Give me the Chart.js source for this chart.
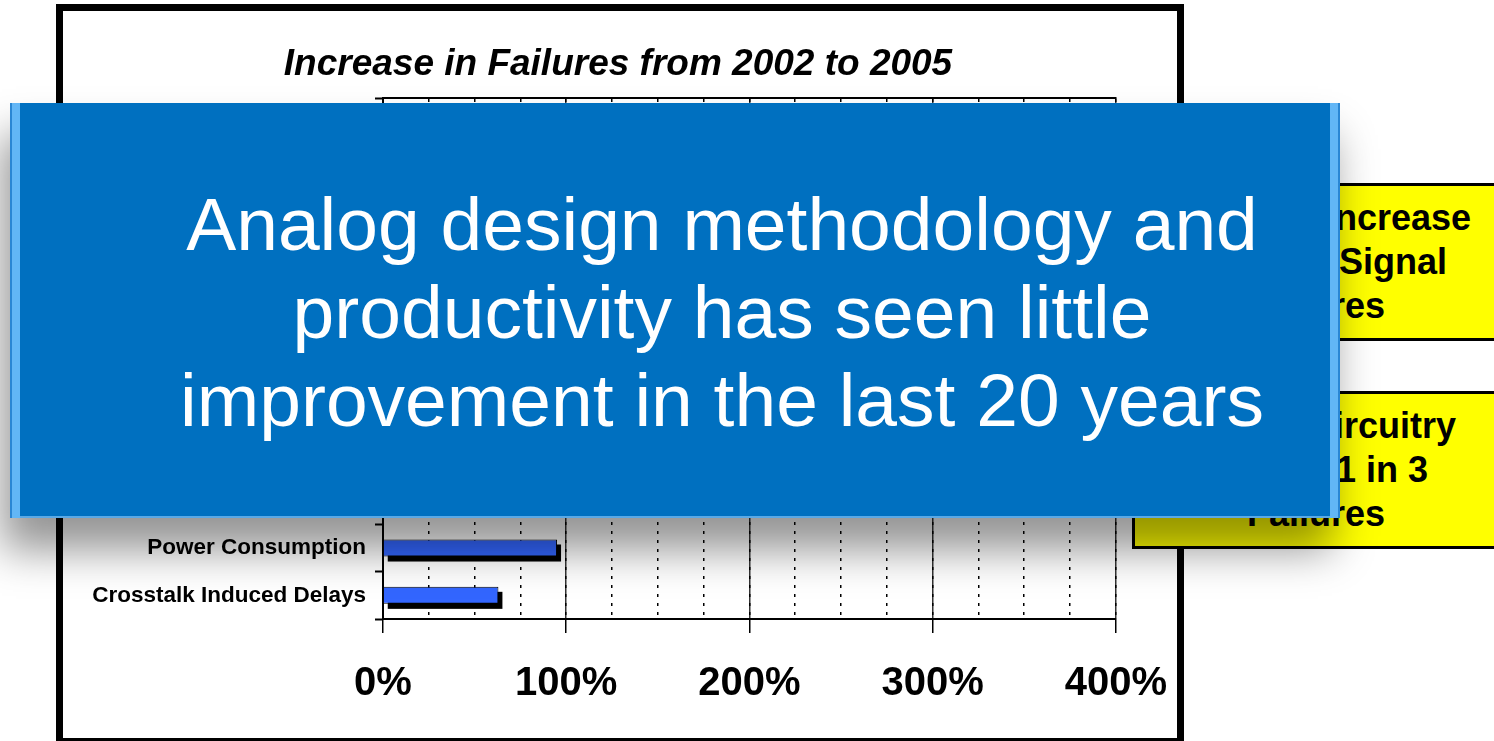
<!DOCTYPE html>
<html>
<head>
<meta charset="utf-8">
<script src="https://cdn.jsdelivr.net/npm/chart.js@4.4.1/dist/chart.umd.min.js"></script>
<style>
  html, body { margin: 0; padding: 0; background: #fff; overflow: hidden; }
  body { width: 1494px; height: 741px; position: relative; font-family: 'Liberation Sans', Arial, sans-serif; }
  #chartBox {
    position: absolute; left: 56px; top: 4px; width: 1128px; height: 741px;
    box-sizing: border-box; border: 7px solid #000; background: #fff;
  }
  #chartWrap { position: absolute; left: 0; top: 0; width: 1131px; height: 727px; }
  .note {
    position: absolute; left: 1132px; width: 368px; height: 158px; box-sizing: border-box;
    background: #ffff00; border: 3px solid #000;
    font-weight: bold; font-size: 36px; line-height: 44px; text-align: center; color: #000;
    padding-top: 10px;
  }
  #banner {
    position: absolute; left: 10px; top: 103px; width: 1330px; height: 415px; box-sizing: border-box;
    background: #0070c0; color: #fff;
    font-size: 75px; line-height: 88px; text-align: center;
    padding-top: 77px; padding-left: 94px;
    box-shadow: inset 2px 0 0 #2a86d4, inset 10px 0 0 #62b6f6, inset -2px 0 0 #2a86d4, inset -10px 0 0 #62b6f6,
                inset 0 -2px 0 #5aa9e6, -8px 32px 40px rgba(0,0,0,0.42);
  }
</style>
</head>
<body>
<div id="chartBox">
  <div id="chartWrap"><canvas id="failChart"></canvas></div>
</div>
<div class="note" style="top:183px">Dramatic Increase<br>in Mixed Signal<br>Failures</div>
<div class="note" style="top:391px">Analog Circuitry<br>causes 1 in 3<br>Failures</div>
<div id="banner">Analog design methodology and<br>productivity has seen little<br>improvement in the last 20 years</div>

<script>
// categories top to bottom; the upper ones sit under the blue banner and can't be read
const categories = ['', '', '', '', '', '', '', '', '', 'Power Consumption', 'Crosstalk Induced Delays'];
const increase = [null, null, null, null, null, null, null, null, null, 95, 63];
const pctTicks = [0, 100, 200, 300, 400];

Chart.defaults.font.family = "'Liberation Sans', Arial, sans-serif";
Chart.defaults.color = '#000';

// black drop shadow under each bar, like the old Excel look
const barShadow = {
  id: 'barShadow',
  beforeDatasetsDraw(chart) {
    const ctx = chart.ctx;
    ctx.save();
    ctx.fillStyle = '#000';
    chart.getDatasetMeta(0).data.forEach(bar => {
      const p = bar.getProps(['x', 'y', 'base', 'height'], true);
      if (p.x == null || isNaN(p.x)) return;
      ctx.fillRect(Math.min(p.base, p.x) + 4, p.y - p.height / 2 + 5, Math.abs(p.x - p.base), p.height);
    });
    ctx.restore();
  }
};

const ctx = document.getElementById('failChart').getContext('2d');
const failChart = new Chart(ctx, {
  type: 'bar',
  data: {
    labels: categories,
    datasets: [{
      label: 'Increase',
      data: increase,
      backgroundColor: '#3366ff',
      borderColor: '#000',
      borderWidth: 1,
      categoryPercentage: 1,
      barPercentage: 0.36
    }]
  },
  options: {
    indexAxis: 'y',
    responsive: true,
    maintainAspectRatio: false,
    animation: false,
    layout: { padding: { left: 0, right: 21, top: 0, bottom: 3 } },
    plugins: {
      legend: { display: false },
      tooltip: { enabled: false },
      title: {
        display: true,
        text: 'Increase in Failures from 2002 to 2005',
        color: '#000',
        font: { size: 37, weight: 'bold', style: 'italic' },
        padding: { top: 32, bottom: 11 }
      }
    },
    scales: {
      x: {
        position: 'bottom',
        min: pctTicks[0],
        max: pctTicks[pctTicks.length - 1],
        ticks: {
          stepSize: 100,
          callback: v => v + '%',
          font: { size: 40, weight: 'bold' },
          color: '#000',
          padding: 27,
          maxRotation: 0
        },
        grid: { color: '#333', lineWidth: 1.5, tickLength: 14, tickColor: '#000', tickWidth: 1.5 },
        border: { color: '#000', width: 2 }
      },
      // minor dotted gridlines every 25%, also gives the top frame line
      xMinor: {
        position: 'top',
        min: pctTicks[0],
        max: pctTicks[pctTicks.length - 1],
        ticks: { display: false, stepSize: 25 },
        grid: { color: '#000', lineWidth: 1.5, drawTicks: false },
        border: { display: true, color: '#000', width: 2, dash: [3, 6] }
      },
      y: {
        position: 'left',
        afterFit: s => { s.width = 320; },
        ticks: { font: { size: 22.5, weight: 'bold' }, color: '#000', padding: 9 },
        grid: { drawOnChartArea: false, tickLength: 8, tickColor: '#000', tickWidth: 2 },
        border: { color: '#000', width: 2 }
      }
    }
  },
  plugins: [barShadow]
});
</script>
</body>
</html>
